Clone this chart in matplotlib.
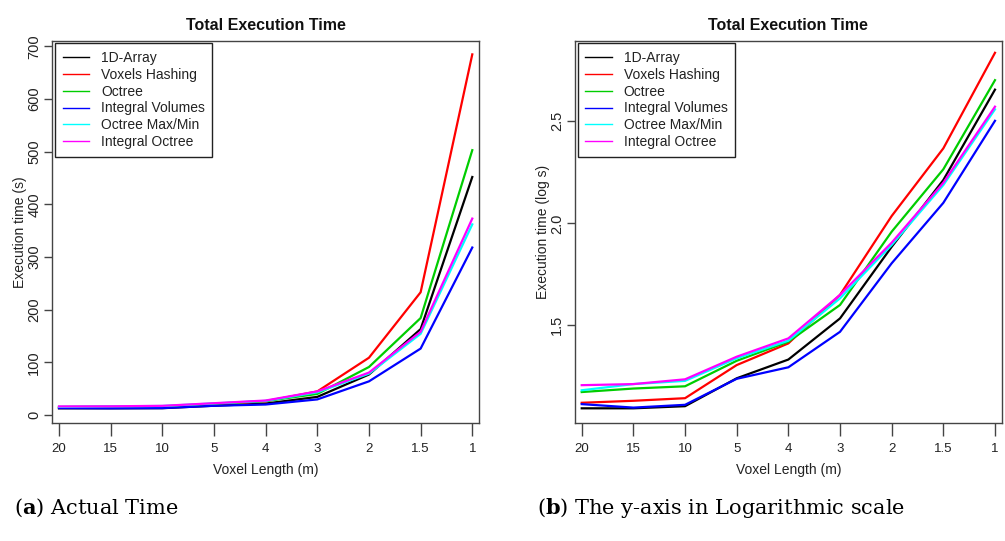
import numpy as np
import matplotlib
matplotlib.use('Agg')
import matplotlib.pyplot as plt

# voxel lengths (categorical x axis)
voxel_labels = ['20', '15', '10', '5', '4', '3', '2', '1.5', '1']

# total execution time in seconds
array_1d = [12.4, 12.4, 12.7, 17.4, 21.5, 34.2, 76.7, 163, 452]
voxels_hashing = [13.2, 13.5, 13.9, 20.2, 25.8, 44.6, 108.6, 233, 685]
octree = [14.9, 15.5, 15.9, 21.2, 26.3, 39.8, 91.0, 184, 503]
integral_volumes = [13.0, 12.5, 12.9, 17.3, 19.7, 29.4, 63.7, 126, 318]
octree_maxmin = [15.2, 16.3, 16.9, 21.8, 26.6, 42.9, 78.3, 154, 362]
integral_octree = [16.1, 16.3, 17.2, 22.2, 27.3, 44.6, 80.4, 158, 373]

series = [
    ('1D-Array', array_1d, 'black'),
    ('Voxels Hashing', voxels_hashing, 'red'),
    ('Octree', octree, '#00CD00'),
    ('Integral Volumes', integral_volumes, 'blue'),
    ('Octree Max/Min', octree_maxmin, 'cyan'),
    ('Integral Octree', integral_octree, 'magenta'),
]

plt.rcParams['font.family'] = ['Liberation Sans', 'DejaVu Sans']
plt.rcParams['mathtext.fontset'] = 'dejavuserif'

fig = plt.figure(figsize=(10.05, 5.41), dpi=100)
W, H = 1005, 541

def make_axes(left_px):
    return fig.add_axes([left_px / W, (H - 423.3) / H, 426.7 / W, 382.6 / H])

def style_axes(ax, ylabel):
    x = np.arange(len(voxel_labels))
    ax.set_xlim(-0.13, 8.13)
    ax.set_xticks(x)
    ax.set_xticklabels(voxel_labels)
    for s in ax.spines.values():
        s.set_color('#444444')
        s.set_linewidth(1.0)
    ax.tick_params(axis='x', length=9, width=1, color='#444444', pad=5,
                   labelsize=9.5, labelcolor='#222222')
    ax.tick_params(axis='y', length=6, width=1, color='#444444', pad=2,
                   labelsize=10.5, labelcolor='#222222')
    plt.setp(ax.get_yticklabels(), rotation=90, va='center')
    ax.set_title('Total Execution Time', fontsize=11.5, fontweight='bold',
                 pad=8, color='#111111')
    ax.set_xlabel('Voxel Length (m)', fontsize=10, color='#222222')
    ax.xaxis.label.set_va('center')
    ax.xaxis.set_label_coords(0.5, -0.122)
    ax.set_ylabel(ylabel, fontsize=10, color='#222222')
    ax.yaxis.label.set_va('center')
    ax.yaxis.set_label_coords(-0.076, 0.5)
    leg = ax.legend(loc='upper left', fontsize=10, frameon=True, fancybox=False,
                    edgecolor='#222222', framealpha=1, borderaxespad=0.2,
                    handlelength=1.9, handletextpad=0.85, labelspacing=0.2,
                    borderpad=0.55)
    leg.get_frame().set_linewidth(1.0)
    for t in leg.get_texts():
        t.set_color('#222222')
    for l in leg.get_lines():
        l.set_linewidth(1.0)

x = np.arange(len(voxel_labels))

# (a) actual time
ax1 = make_axes(52.3)
for name, vals, col in series:
    ax1.plot(x, vals, color=col, lw=1.6, label=name)
ax1.set_ylim(-16, 711)
ax1.set_yticks(np.arange(0, 701, 100))
style_axes(ax1, 'Execution time (s)')

# (b) log scale
ax2 = make_axes(575)
for name, vals, col in series:
    ax2.plot(x, np.log10(vals), color=col, lw=1.6, label=name)
ax2.set_ylim(1.02, 2.895)
ax2.set_yticks([1.5, 2.0, 2.5])
style_axes(ax2, 'Execution time (log s)')

fig.text(14 / W, 1 - 508 / H, r'($\mathbf{a}$) Actual Time', family='DejaVu Serif',
         fontsize=15, va='center', ha='left')
fig.text(536.7 / W, 1 - 508 / H, r'($\mathbf{b}$) The y-axis in Logarithmic scale',
         family='DejaVu Serif', fontsize=15, va='center', ha='left')

fig.savefig('out.png', dpi=100)
